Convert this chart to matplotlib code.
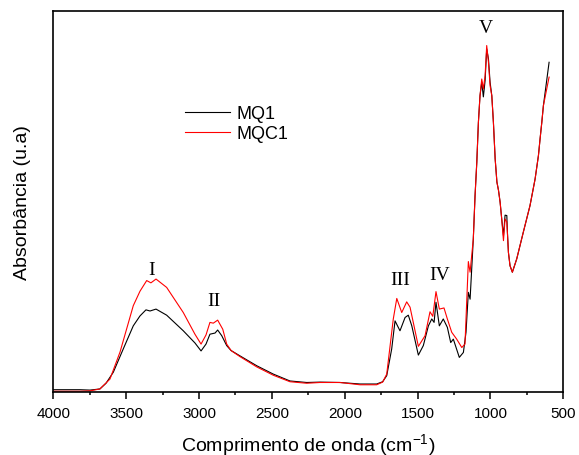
import numpy as np
import matplotlib
matplotlib.use('Agg')
import matplotlib.pyplot as plt

# espectros FTIR (numero de onda, absorbancia relativa)
onda_mq1 = [4000, 3817, 3748, 3680, 3638, 3588, 3520, 3451, 3405, 3364, 3336, 3295, 3222,
            3108, 3028, 2986, 2952, 2925, 2890, 2872, 2844, 2810, 2780, 2719, 2604, 2490,
            2376, 2261, 2170, 2032, 1895, 1781, 1740, 1712, 1678, 1655, 1621, 1586, 1564,
            1540, 1495, 1461, 1426, 1403, 1387, 1374, 1351, 1324, 1296, 1273, 1255, 1214,
            1186, 1168, 1152, 1140, 1118, 1106, 1094, 1083, 1072, 1060, 1049, 1037, 1026,
            1014, 1003, 991, 980, 968, 956, 945, 934, 923, 911, 900, 888, 884, 877, 866,
            850, 820, 775, 729, 694, 671, 660, 648, 637, 598]
abs_mq1 = [0.005, 0.005, 0.004, 0.007, 0.022, 0.051, 0.112, 0.173, 0.199, 0.215, 0.212, 0.217,
           0.201, 0.160, 0.128, 0.107, 0.125, 0.151, 0.154, 0.162, 0.147, 0.121, 0.108, 0.094,
           0.068, 0.046, 0.028, 0.024, 0.025, 0.024, 0.020, 0.020, 0.026, 0.042, 0.112, 0.186,
           0.160, 0.195, 0.201, 0.173, 0.096, 0.121, 0.173, 0.191, 0.182, 0.235, 0.173, 0.191,
           0.169, 0.129, 0.138, 0.090, 0.103, 0.156, 0.261, 0.243, 0.401, 0.515, 0.603, 0.708,
           0.778, 0.814, 0.775, 0.818, 0.901, 0.875, 0.814, 0.778, 0.708, 0.612, 0.551, 0.529,
           0.498, 0.454, 0.410, 0.464, 0.463, 0.419, 0.366, 0.331, 0.314, 0.349, 0.419, 0.489,
           0.559, 0.621, 0.664, 0.708, 0.752, 0.866]

onda_mqc1 = [4000, 3817, 3748, 3680, 3611, 3542, 3451, 3405, 3359, 3330, 3295, 3222, 3108,
             3028, 2986, 2952, 2925, 2902, 2872, 2837, 2810, 2780, 2719, 2604, 2490, 2376,
             2261, 2170, 2032, 1895, 1781, 1740, 1712, 1667, 1643, 1609, 1575, 1552, 1495,
             1449, 1415, 1396, 1374, 1351, 1319, 1296, 1266, 1232, 1197, 1175, 1152, 1140,
             1118, 1106, 1094, 1083, 1072, 1060, 1049, 1037, 1026, 1014, 1003, 991, 980, 968,
             956, 945, 934, 923, 911, 900, 888, 884, 877, 866, 850, 820, 775, 729, 694, 671,
             660, 648, 637, 598]
abs_mqc1 = [0.001, 0.001, 0.002, 0.007, 0.033, 0.104, 0.226, 0.264, 0.292, 0.286, 0.296,
            0.274, 0.208, 0.151, 0.125, 0.149, 0.182, 0.180, 0.188, 0.164, 0.125, 0.108,
            0.092, 0.065, 0.043, 0.026, 0.022, 0.024, 0.024, 0.018, 0.018, 0.025, 0.046,
            0.191, 0.245, 0.208, 0.236, 0.222, 0.119, 0.147, 0.210, 0.198, 0.263, 0.217,
            0.220, 0.191, 0.156, 0.138, 0.116, 0.125, 0.342, 0.314, 0.401, 0.515, 0.603,
            0.708, 0.778, 0.822, 0.796, 0.831, 0.910, 0.866, 0.805, 0.778, 0.708, 0.612,
            0.551, 0.529, 0.498, 0.454, 0.397, 0.454, 0.446, 0.419, 0.366, 0.331, 0.314,
            0.349, 0.419, 0.489, 0.559, 0.621, 0.664, 0.708, 0.752, 0.827]

# bandas marcadas
bandas = ['I', 'II', 'III', 'IV', 'V']
onda_bandas = [3323, 2895, 1621, 1351, 1032]
abs_bandas = [0.322, 0.239, 0.296, 0.307, 0.958]

plt.rcParams['font.family'] = 'Liberation Sans'
plt.rcParams['mathtext.default'] = 'regular'

fig = plt.figure(figsize=(5.79, 4.56), dpi=100)
ax = fig.add_axes([0.092, 0.139, 0.881, 0.834])

ax.plot(onda_mq1, abs_mq1, '-', color='black', linewidth=0.8, label='MQ1')
ax.plot(onda_mqc1, abs_mqc1, '-', color='#ff0000', linewidth=0.8, label='MQC1')

for txt, xb, yb in zip(bandas, onda_bandas, abs_bandas):
    ax.text(xb, yb, txt, family='Liberation Serif', fontsize=14,
            ha='center', va='center')

ax.set_xlim(4000, 500)
ax.set_ylim(0, 1)
ax.set_xticks(np.arange(4000, 499, -500))
ax.set_xticks(np.arange(3750, 500, -500), minor=True)
ax.set_yticks([])
ax.tick_params(axis='x', which='major', direction='out', length=5, width=1.1,
               labelsize=11, pad=5)
ax.tick_params(axis='x', which='minor', direction='out', length=2.5, width=1.1)
for s in ax.spines.values():
    s.set_linewidth(1.2)

ax.set_xlabel('Comprimento de onda (cm$^{-1}$)', fontsize=14, labelpad=8)
ax.set_ylabel('Absorbância (u.a)', fontsize=14, labelpad=16)

ax.legend(loc='center left', bbox_to_anchor=(0.3195, 0.7265),
          bbox_transform=fig.transFigure, frameon=False, fontsize=13,
          borderpad=0, borderaxespad=0, handlelength=2.5, handletextpad=0.35,
          labelspacing=0.15)

plt.savefig('out.png', dpi=100)
